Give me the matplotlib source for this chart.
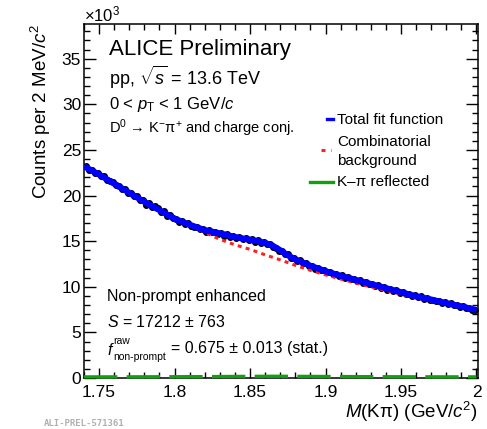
import numpy as np
import matplotlib.pyplot as plt
from matplotlib.ticker import MultipleLocator

plt.rcParams['font.family'] = ['Liberation Sans', 'DejaVu Sans']
plt.rcParams['mathtext.fontset'] = 'custom'
plt.rcParams['mathtext.rm'] = 'Liberation Sans'
plt.rcParams['mathtext.it'] = 'Liberation Sans:italic'
plt.rcParams['mathtext.bf'] = 'Liberation Sans:bold'

# invariant mass bins (2 MeV), counts per bin
mass_lo, mass_hi, bin_w = 1.74, 2.00, 0.002
counts = [
    23250, 22850, 22800, 22450, 22500,
    22100, 22150, 21700, 21550, 21500,
    21100, 21050, 20700, 20750, 20300,
    20300, 19900, 19950, 19500, 19550,
    19000, 19150, 18700, 18900, 18600,
    18200, 18250, 17800, 17850, 17500,
    17450, 17150, 17200, 16900, 16950,
    16700, 16550, 16600, 16300, 16350,
    16050, 16200, 15950, 16000, 15750,
    15900, 15600, 15750, 15450, 15550,
    15300, 15500, 15200, 15350, 15100,
    15200, 14950, 15100, 14850, 14950,
    14650, 14700, 14350, 14300, 13950,
    13950, 13600, 13600, 13200, 13150,
    12850, 12900, 12550, 12600, 12300,
    12300, 12000, 12100, 11800, 11850,
    11600, 11650, 11350, 11450, 11150,
    11250, 10950, 11050, 10800, 10900,
    10600, 10700, 10450, 10500, 10250,
    10300, 10050, 10150, 9900, 9950,
    9700, 9800, 9550, 9600, 9350,
    9450, 9200, 9250, 9000, 9050,
    8850, 8950, 8700, 8750, 8550,
    8600, 8400, 8450, 8250, 8300,
    8100, 8200, 7950, 8000, 7800,
    7850, 7650, 7700, 7500, 7450,
]

# total fit function
fit_mass = [1.74, 1.75, 1.76, 1.77, 1.78, 1.79, 1.80, 1.81, 1.82, 1.83,
            1.84, 1.85, 1.855, 1.86, 1.865, 1.87, 1.875, 1.88, 1.89, 1.90,
            1.91, 1.92, 1.93, 1.94, 1.95, 1.96, 1.97, 1.98, 1.99, 2.00]
fit_total = [23200, 22300, 21300, 20300, 19300, 18400, 17450, 16800, 16200, 15850,
             15450, 15150, 15000, 14800, 14500, 14000, 13450, 13000, 12300, 11700,
             11200, 10750, 10300, 9850, 9400, 8950, 8600, 8200, 7850, 7450]

# combinatorial background
bkg_mass = [1.74, 1.75, 1.76, 1.77, 1.78, 1.79, 1.80, 1.81, 1.82, 1.83, 1.84,
            1.85, 1.86, 1.87, 1.88, 1.89, 1.90, 1.91, 1.92, 1.93, 1.94, 1.95,
            1.96, 1.97, 1.98, 1.99, 2.00]
bkg_vals = [23150, 22250, 21250, 20250, 19250, 18350, 17400, 16750, 15950, 15200, 14600,
            14100, 13500, 12950, 12350, 11800, 11300, 10850, 10420, 10000, 9600, 9200,
            8800, 8450, 8100, 7750, 7400]

# reflected K-pi template
refl_mass = [1.74, 1.78, 1.82, 1.85, 1.865, 1.88, 1.92, 1.96, 2.00]
refl_vals = [120, 130, 150, 180, 190, 180, 150, 130, 120]

ytick_vals = [0, 5000, 10000, 15000, 20000, 25000, 30000, 35000]
ytick_labels = ['0', '5', '10', '15', '20', '25', '30', '35']
xtick_vals = [1.75, 1.80, 1.85, 1.90, 1.95, 2.00]
xtick_labels = ['1.75', '1.8', '1.85', '1.9', '1.95', '2']

centers = np.arange(mass_lo + bin_w / 2, mass_hi, bin_w)[:len(counts)]

W, H = 487, 429
fig = plt.figure(figsize=(W / 100, H / 100), dpi=100)
ax = fig.add_axes([84 / W, 1 - 378 / H, 394 / W, 354 / H])

ax.plot(centers, counts, 'o', color='black', ms=4.0, zorder=2)
ax.plot(bkg_mass, bkg_vals, color='#ff2020', lw=2.2, ls=(0, (1.3, 1.4)), zorder=3)
ax.plot(fit_mass, fit_total, color='#0000ff', lw=4.4, zorder=4, solid_capstyle='butt')
ax.plot(refl_mass, refl_vals, color='#10a010', lw=2.4, ls=(0, (10.0, 2.8)), zorder=5,
        clip_on=False)

ax.set_xlim(mass_lo, mass_hi + 0.001)
ax.set_ylim(0, 38800)
ax.set_xticks(xtick_vals)
ax.set_xticklabels(xtick_labels)
ax.set_yticks(ytick_vals)
ax.set_yticklabels(ytick_labels)
ax.xaxis.set_minor_locator(MultipleLocator(0.01))
ax.yaxis.set_minor_locator(MultipleLocator(1000))
ax.tick_params(which='both', direction='in', top=True, right=True, labelsize=12.5,
               width=1.0, color='black')
ax.tick_params(axis='y', which='major', length=8.5, pad=2)
ax.tick_params(axis='y', which='minor', length=4)
ax.tick_params(axis='x', which='major', length=7, pad=5)
ax.tick_params(axis='x', which='minor', length=4)
for s in ax.spines.values():
    s.set_linewidth(1.1)

fig.text(84 / W, 1 - 14 / H, r'$\times$10$^{3}$', fontsize=12, va='center', ha='left')
ax.set_ylabel(r'Counts per 2 MeV/$c^{2}$', fontsize=13.5, loc='top', labelpad=6)
ax.set_xlabel(r'$M$(Kπ) (GeV/$c^{2}$)', fontsize=13.5, loc='right', labelpad=0)

def ftxt(px, py, s, **kw):
    fig.text(px / W, 1 - py / H, s, va='center', ha='left', **kw)

ftxt(109, 49, 'ALICE Preliminary', fontsize=16)
ftxt(109, 77, r'pp, $\sqrt{s}$ = 13.6 TeV', fontsize=13)
ftxt(109, 104, r'0 < $p_{\mathrm{T}}$ < 1 GeV/$c$', fontsize=12)
ftxt(109, 128, r'D$^{0}$ → K$^{-}$π$^{+}$ and charge conj.', fontsize=10.5)

# legend
ftxt(337, 120, 'Total fit function', fontsize=11)
ftxt(337, 142, 'Combinatorial', fontsize=11)
ftxt(337, 161, 'background', fontsize=11)
ftxt(337, 182, 'K–π reflected', fontsize=11)
fig.add_artist(plt.Line2D([327 / W, 333 / W], [1 - 119 / H] * 2, color='#0000ff', lw=2.4))
fig.add_artist(plt.Line2D([321 / W, 331 / W], [1 - 150 / H] * 2, color='#ff2020', lw=2.2,
                          ls=(0, (1.3, 1.8))))
fig.add_artist(plt.Line2D([310 / W, 333 / W], [1 - 182 / H] * 2, color='#10a010', lw=2.4))

ftxt(107, 296, 'Non-prompt enhanced', fontsize=11.5)
ftxt(107, 322, r'$S$ = 17212 ± 763', fontsize=11.5)
ftxt(107, 350, r'$f$', fontsize=11.5)
ftxt(113, 341, 'raw', fontsize=7.5)
ftxt(113, 357, 'non-prompt', fontsize=7.5)
ftxt(171, 349, '= 0.675 ± 0.013 (stat.)', fontsize=11.5)

fig.text(44 / W, 1 - 423 / H, 'ALI-PREL-571361', fontsize=6.5, color='#b0b0b0',
         family='DejaVu Sans Mono', weight='bold', va='center', ha='left')

fig.savefig('out.png', dpi=100)
